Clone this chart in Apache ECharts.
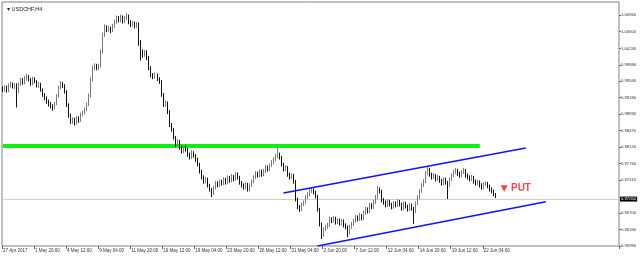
<!DOCTYPE html>
<html><head><meta charset="utf-8">
<script src="https://cdn.jsdelivr.net/npm/echarts@6/dist/echarts.min.js"></script>
<style>html,body{margin:0;padding:0;background:#fff}#c{width:640px;height:258px}</style>
</head><body><div id="c"></div>
<script>
// ---- data ----
const title = '▾ USDCHF,H4';
const xLabels = ['27 Apr 2017','1 May 20:00','4 May 12:00','9 May 04:00','11 May 20:00','16 May 12:00','19 May 04:00','23 May 20:00','26 May 12:00','31 May 04:00','2 Jun 20:00','7 Jun 12:00','12 Jun 04:00','14 Jun 20:00','19 Jun 12:00','22 Jun 04:00'];
const yTicks = [0.9599,0.9634,0.9670,0.9741,0.9776,0.9812,0.9847,0.9883,0.9918,0.9954,0.9988,1.0024,1.0060,1.0096];
const currentPrice = 0.97054;
const opens = [0.9938,0.9935,0.9940,0.9933,0.9944,0.9948,0.9942,0.9946,0.9931,0.9948,0.9957,0.9950,0.9961,0.9963,0.9957,0.9948,0.9959,0.9953,0.9944,0.9948,
0.9935,0.9925,0.9918,0.9910,0.9905,0.9901,0.9897,0.9905,0.9922,0.9940,0.9948,0.9944,0.9931,0.9903,0.9880,0.9867,0.9871,0.9863,0.9875,0.9869,
0.9882,0.9886,0.9892,0.9903,0.9922,0.9957,0.9982,0.9987,0.9982,0.9987,1.0017,1.0053,1.0070,1.0064,1.0068,1.0062,1.0072,1.0081,1.0090,1.0085,
1.0092,1.0083,1.0090,1.0094,1.0081,1.0075,1.0079,1.0072,1.0077,1.0038,1.0017,1.0010,1.0017,1.0004,0.9982,0.9967,0.9963,0.9967,0.9959,0.9953,
0.9925,0.9903,0.9907,0.9888,0.9860,0.9850,0.9833,0.9818,0.9824,0.9811,0.9803,0.9811,0.9807,0.9796,0.9790,0.9800,0.9794,0.9785,0.9775,0.9760,
0.9747,0.9738,0.9743,0.9730,0.9721,0.9713,0.9725,0.9734,0.9730,0.9738,0.9734,0.9743,0.9736,0.9747,0.9740,0.9749,0.9743,0.9753,0.9747,0.9736,
0.9730,0.9725,0.9732,0.9721,0.9730,0.9738,0.9747,0.9755,0.9751,0.9760,0.9753,0.9760,0.9768,0.9764,0.9773,0.9779,0.9785,0.9792,0.9796,0.9790,
0.9775,0.9764,0.9768,0.9753,0.9747,0.9751,0.9738,0.9700,0.9683,0.9678,0.9689,0.9693,0.9704,0.9710,0.9717,0.9719,0.9715,0.9706,0.9678,0.9646,
0.9623,0.9635,0.9640,0.9644,0.9657,0.9653,0.9659,0.9650,0.9655,0.9648,0.9653,0.9644,0.9640,0.9627,0.9640,0.9646,0.9653,0.9661,0.9657,0.9665,
0.9659,0.9670,0.9678,0.9674,0.9687,0.9683,0.9693,0.9704,0.9721,0.9717,0.9698,0.9693,0.9687,0.9695,0.9689,0.9683,0.9691,0.9687,0.9695,0.9689,
0.9680,0.9691,0.9685,0.9678,0.9687,0.9680,0.9674,0.9691,0.9704,0.9717,0.9730,0.9738,0.9755,0.9764,0.9753,0.9747,0.9751,0.9743,0.9747,0.9740,
0.9734,0.9743,0.9736,0.9730,0.9743,0.9751,0.9758,0.9762,0.9755,0.9751,0.9758,0.9762,0.9751,0.9747,0.9743,0.9747,0.9738,0.9734,0.9736,0.9730,
0.9725,0.9732,0.9734,0.9728,0.9721,0.9717,0.9710];
const closes = [0.9935,0.9940,0.9933,0.9944,0.9948,0.9942,0.9946,0.9931,0.9948,0.9957,0.9950,0.9961,0.9963,0.9957,0.9948,0.9959,0.9953,0.9944,0.9948,0.9935,
0.9925,0.9918,0.9910,0.9905,0.9901,0.9897,0.9905,0.9922,0.9940,0.9948,0.9944,0.9931,0.9903,0.9880,0.9867,0.9871,0.9863,0.9875,0.9869,0.9882,
0.9886,0.9892,0.9903,0.9922,0.9957,0.9982,0.9987,0.9982,0.9987,1.0017,1.0053,1.0070,1.0064,1.0068,1.0062,1.0072,1.0081,1.0090,1.0085,1.0092,
1.0083,1.0090,1.0094,1.0081,1.0075,1.0079,1.0072,1.0077,1.0038,1.0017,1.0010,1.0017,1.0004,0.9982,0.9967,0.9963,0.9967,0.9959,0.9953,0.9925,
0.9903,0.9907,0.9888,0.9860,0.9850,0.9833,0.9818,0.9824,0.9811,0.9803,0.9811,0.9807,0.9796,0.9790,0.9800,0.9794,0.9785,0.9775,0.9760,0.9747,
0.9738,0.9743,0.9730,0.9721,0.9713,0.9725,0.9734,0.9730,0.9738,0.9734,0.9743,0.9736,0.9747,0.9740,0.9749,0.9743,0.9753,0.9747,0.9736,0.9730,
0.9725,0.9732,0.9721,0.9730,0.9738,0.9747,0.9755,0.9751,0.9760,0.9753,0.9760,0.9768,0.9764,0.9773,0.9779,0.9785,0.9792,0.9796,0.9790,0.9775,
0.9764,0.9768,0.9753,0.9747,0.9751,0.9738,0.9700,0.9683,0.9678,0.9689,0.9693,0.9704,0.9710,0.9717,0.9719,0.9715,0.9706,0.9678,0.9646,0.9623,
0.9635,0.9640,0.9644,0.9657,0.9653,0.9659,0.9650,0.9655,0.9648,0.9653,0.9644,0.9640,0.9627,0.9640,0.9646,0.9653,0.9661,0.9657,0.9665,0.9659,
0.9670,0.9678,0.9674,0.9687,0.9683,0.9693,0.9704,0.9721,0.9717,0.9698,0.9693,0.9687,0.9695,0.9689,0.9683,0.9691,0.9687,0.9695,0.9689,0.9680,
0.9691,0.9685,0.9678,0.9687,0.9680,0.9674,0.9691,0.9704,0.9717,0.9730,0.9738,0.9755,0.9764,0.9753,0.9747,0.9751,0.9743,0.9747,0.9740,0.9734,
0.9743,0.9736,0.9730,0.9743,0.9751,0.9758,0.9762,0.9755,0.9751,0.9758,0.9762,0.9751,0.9747,0.9743,0.9747,0.9738,0.9734,0.9736,0.9730,0.9725,
0.9732,0.9734,0.9728,0.9721,0.9717,0.9710,0.9705];
const lows = [0.9930,0.9931,0.9929,0.9930,0.9940,0.9938,0.9937,0.9897,0.9928,0.9944,0.9946,0.9947,0.9955,0.9953,0.9944,0.9945,0.9949,0.9940,0.9939,0.9931,
0.9920,0.9913,0.9905,0.9899,0.9895,0.9890,0.9893,0.9902,0.9918,0.9936,0.9939,0.9927,0.9898,0.9875,0.9862,0.9862,0.9858,0.9860,0.9864,0.9866,
0.9878,0.9882,0.9889,0.9900,0.9918,0.9953,0.9977,0.9977,0.9978,0.9983,1.0013,1.0049,1.0059,1.0060,1.0057,1.0059,1.0068,1.0077,1.0080,1.0081,
1.0078,1.0079,1.0085,1.0076,1.0070,1.0071,1.0067,1.0068,1.0030,0.9998,1.0004,1.0006,0.9999,0.9977,0.9962,0.9958,0.9959,0.9954,0.9948,0.9920,
0.9898,0.9899,0.9883,0.9855,0.9845,0.9828,0.9812,0.9814,0.9806,0.9798,0.9799,0.9802,0.9791,0.9785,0.9786,0.9789,0.9780,0.9770,0.9755,0.9742,
0.9733,0.9734,0.9725,0.9716,0.9704,0.9709,0.9721,0.9725,0.9726,0.9729,0.9730,0.9731,0.9732,0.9735,0.9736,0.9738,0.9739,0.9742,0.9731,0.9725,
0.9720,0.9721,0.9716,0.9717,0.9726,0.9734,0.9743,0.9746,0.9747,0.9748,0.9749,0.9756,0.9759,0.9760,0.9769,0.9775,0.9781,0.9788,0.9785,0.9770,
0.9759,0.9760,0.9748,0.9742,0.9743,0.9733,0.9695,0.9678,0.9672,0.9674,0.9685,0.9689,0.9700,0.9706,0.9713,0.9710,0.9701,0.9673,0.9641,0.9614,
0.9619,0.9631,0.9636,0.9640,0.9648,0.9649,0.9645,0.9646,0.9643,0.9644,0.9639,0.9635,0.9618,0.9623,0.9636,0.9642,0.9649,0.9652,0.9653,0.9654,
0.9655,0.9666,0.9669,0.9670,0.9678,0.9679,0.9689,0.9700,0.9712,0.9693,0.9688,0.9682,0.9683,0.9684,0.9678,0.9679,0.9682,0.9683,0.9684,0.9675,
0.9676,0.9680,0.9673,0.9674,0.9675,0.9646,0.9670,0.9687,0.9700,0.9713,0.9726,0.9734,0.9751,0.9748,0.9742,0.9743,0.9738,0.9739,0.9735,0.9729,
0.9730,0.9731,0.9700,0.9726,0.9739,0.9747,0.9754,0.9750,0.9746,0.9747,0.9754,0.9746,0.9742,0.9738,0.9739,0.9733,0.9729,0.9730,0.9725,0.9720,
0.9721,0.9728,0.9723,0.9716,0.9712,0.9706,0.9702];
const highs = [0.9942,0.9945,0.9944,0.9949,0.9953,0.9951,0.9950,0.9949,0.9951,0.9961,0.9960,0.9965,0.9970,0.9967,0.9960,0.9963,0.9962,0.9956,0.9952,0.9950,
0.9938,0.9928,0.9921,0.9914,0.9909,0.9904,0.9909,0.9926,0.9944,0.9954,0.9952,0.9947,0.9934,0.9906,0.9884,0.9876,0.9875,0.9879,0.9878,0.9886,
0.9890,0.9897,0.9908,0.9927,0.9962,0.9987,0.9992,0.9991,0.9991,1.0022,1.0058,1.0076,1.0074,1.0073,1.0071,1.0077,1.0086,1.0095,1.0094,1.0097,
1.0095,1.0094,1.0100,1.0097,1.0085,1.0083,1.0082,1.0081,1.0080,1.0042,1.0022,1.0021,1.0020,1.0008,0.9986,0.9971,0.9972,0.9970,0.9962,0.9956,
0.9928,0.9912,0.9910,0.9891,0.9864,0.9853,0.9836,0.9829,0.9827,0.9815,0.9816,0.9815,0.9810,0.9800,0.9805,0.9803,0.9797,0.9789,0.9778,0.9763,
0.9751,0.9748,0.9746,0.9733,0.9724,0.9729,0.9739,0.9738,0.9742,0.9742,0.9747,0.9746,0.9751,0.9750,0.9754,0.9752,0.9758,0.9757,0.9750,0.9739,
0.9734,0.9736,0.9735,0.9734,0.9742,0.9751,0.9760,0.9759,0.9764,0.9763,0.9765,0.9773,0.9772,0.9777,0.9784,0.9790,0.9797,0.9811,0.9800,0.9793,
0.9778,0.9773,0.9771,0.9757,0.9755,0.9754,0.9741,0.9703,0.9687,0.9693,0.9697,0.9708,0.9715,0.9722,0.9724,0.9723,0.9718,0.9709,0.9681,0.9649,
0.9639,0.9645,0.9649,0.9662,0.9661,0.9664,0.9662,0.9659,0.9658,0.9657,0.9656,0.9648,0.9643,0.9644,0.9651,0.9657,0.9666,0.9665,0.9670,0.9668,
0.9675,0.9683,0.9682,0.9692,0.9691,0.9698,0.9709,0.9728,0.9725,0.9720,0.9702,0.9697,0.9700,0.9698,0.9692,0.9696,0.9695,0.9700,0.9698,0.9692,
0.9695,0.9694,0.9688,0.9691,0.9690,0.9683,0.9695,0.9708,0.9721,0.9734,0.9743,0.9760,0.9771,0.9767,0.9757,0.9756,0.9754,0.9752,0.9750,0.9743,
0.9747,0.9746,0.9739,0.9747,0.9755,0.9763,0.9767,0.9765,0.9759,0.9762,0.9767,0.9765,0.9755,0.9751,0.9752,0.9750,0.9742,0.9741,0.9740,0.9734,
0.9736,0.9738,0.9737,0.9731,0.9725,0.9720,0.9713];
const supportLine = [[0, 0.9814], [238, 0.9814]];
const upperChannel = [[140, 0.9713], [261, 0.9810]];
const lowerChannel = [[157, 0.9599], [271, 0.9694]];
const signalPoint = [256, 0.9723];
const signalText = 'PUT';
const slotCount = 308;

// ---- time axis categories (H4 bars, weekdays only) ----
const mon = ['Jan','Feb','Mar','Apr','May','Jun','Jul','Aug','Sep','Oct','Nov','Dec'];
const categories = [];
let t = Date.UTC(2017, 3, 27, 4);
while (categories.length < slotCount) {
  const d = new Date(t);
  const wd = d.getUTCDay();
  if (wd !== 0 && wd !== 6) {
    categories.push(d.getUTCDate() + ' ' + mon[d.getUTCMonth()] + ' ' + String(d.getUTCHours()).padStart(2,'0') + ':00');
  }
  t += 4 * 3600 * 1000;
}
const candles = closes.map((c, i) => [opens[i], c, lows[i], highs[i]]);
const labelIdx = new Set(xLabels.map((_, k) => k * 16));

const chart = echarts.init(document.getElementById('c'), null, {renderer: 'canvas'});
const font = 'Liberation Sans, Arial, sans-serif';
chart.setOption({
  animation: false,
  backgroundColor: '#ffffff',
  title: {text: title, left: 2, top: 1, textStyle: {fontSize: 5.5, fontWeight: 'normal', color: '#222', fontFamily: font}},
  grid: {left: 2, right: 21, top: 2, bottom: 12, show: true, borderColor: '#808080', borderWidth: 1, backgroundColor: '#fff'},
  xAxis: {
    type: 'category', data: categories, boundaryGap: true,
    axisLine: {show: false},
    axisTick: {show: true, length: 3, lineStyle: {color: '#666'}, interval: (i) => labelIdx.has(i)},
    axisLabel: {show: true, interval: (i) => labelIdx.has(i), formatter: (v, i) => xLabels[i / 16] || '', align: 'left', fontSize: 4.5, margin: 2, color: '#333', fontFamily: font},
    splitLine: {show: false}
  },
  yAxis: {
    type: 'value', position: 'right', min: 0.9599, max: 1.0124, scale: true,
    axisLine: {show: false},
    axisTick: {show: true, length: 2, lineStyle: {color: '#666'}, customValues: yTicks},
    axisLabel: {show: true, customValues: yTicks, formatter: (v) => v.toFixed(5), fontSize: 4.2, margin: 2, color: '#333', fontFamily: font},
    splitLine: {show: false}
  },
  series: [
    {
      type: 'line', data: supportLine, symbol: 'none', silent: true, z: 3,
      lineStyle: {color: '#11ee11', width: 4}
    },
    {
      type: 'candlestick', data: candles, barWidth: 1, z: 4,
      itemStyle: {color: '#b4b4b4', color0: '#111', borderColor: '#7a7a7a', borderColor0: '#111', borderWidth: 1},
      markLine: {
        symbol: 'none', silent: true, z: 1,
        lineStyle: {color: '#cfcfcf', width: 1, type: 'solid'},
        label: {position: 'end', formatter: currentPrice.toFixed(5), backgroundColor: '#000', color: '#fff', fontSize: 4.2, padding: [1, 1, 0, 1], distance: 1, fontFamily: font},
        data: [{yAxis: currentPrice}]
      }
    },
    {
      type: 'line', data: upperChannel, symbol: 'none', silent: true, z: 5,
      lineStyle: {color: '#1212f5', width: 1.5}
    },
    {
      type: 'line', data: lowerChannel, symbol: 'none', silent: true, z: 5,
      lineStyle: {color: '#1212f5', width: 1.5}
    },
    {
      type: 'scatter', data: [signalPoint], symbolSize: 0, silent: true, z: 6,
      label: {show: true, position: 'inside', formatter: '{a|▼} {b|' + signalText + '}',
        rich: {a: {color: '#f0141e', fontSize: 9, fontFamily: 'DejaVu Sans'}, b: {color: '#f0141e', fontSize: 10, fontWeight: 'bold', fontFamily: font}}}
    }
  ]
});
</script>
</body></html>
